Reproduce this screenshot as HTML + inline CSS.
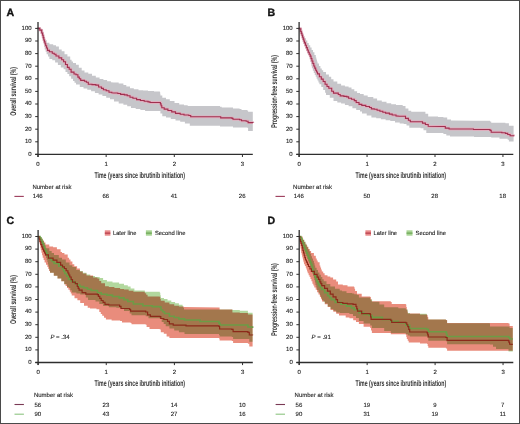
<!DOCTYPE html>
<html><head><meta charset="utf-8"><title>Kaplan-Meier curves</title>
<style>
html,body{margin:0;padding:0;background:#fff;}
svg{display:block;filter:blur(0.35px);}
text{font-family:"Liberation Sans", sans-serif;text-rendering:geometricPrecision;}
.tk,.nr,.lg,.pv{font-size:6px;fill:#262626;stroke:#262626;stroke-width:0.12px;}
.ti{font-size:8.3px;font-weight:bold;fill:#333;}
.lt{font-size:10.6px;font-weight:bold;fill:#111;stroke:#111;stroke-width:0.35px;}
</style></head>
<body><svg width="520" height="424" viewBox="0 0 520 424">
<rect x="0.5" y="0.5" width="519" height="423" fill="#fff" stroke="#4a4a4a" stroke-width="1"/>
<path d="M37.60,28.40 L40.00,28.40 L40.00,29.50 L41.25,29.50 L41.25,32.25 L42.50,32.25 L42.50,35.00 L43.25,35.00 L43.25,37.50 L44.00,37.50 L44.00,40.00 L46.60,40.00 L46.60,42.80 L49.40,42.80 L49.40,44.20 L53.20,44.20 L53.20,45.20 L56.00,45.20 L56.00,46.60 L58.90,46.60 L58.90,49.40 L61.70,49.40 L61.70,51.30 L64.50,51.30 L64.50,54.20 L67.40,54.20 L67.40,56.50 L70.20,56.50 L70.20,59.80 L71.60,59.80 L71.60,61.45 L73.00,61.45 L73.00,63.10 L76.00,63.10 L76.00,64.80 L78.80,64.80 L78.80,67.70 L81.70,67.70 L81.70,70.50 L84.50,70.50 L84.50,72.40 L88.30,72.40 L88.30,73.80 L92.00,73.80 L92.00,75.70 L95.80,75.70 L95.80,77.60 L99.60,77.60 L99.60,79.00 L103.40,79.00 L103.40,79.90 L107.10,79.90 L107.10,81.30 L110.90,81.30 L110.90,82.30 L114.00,82.60 L118.70,82.60 L118.70,83.50 L123.40,83.50 L123.40,85.00 L126.30,85.00 L126.30,86.40 L130.00,86.40 L130.00,88.30 L133.80,88.30 L133.80,89.20 L138.50,89.20 L138.50,90.20 L143.20,90.20 L143.20,90.60 L148.00,90.60 L148.00,91.10 L154.00,91.10 L154.00,91.60 L159.90,91.60 L159.90,92.10 L160.15,92.10 L160.15,93.75 L160.40,93.75 L160.40,95.40 L162.30,95.40 L162.30,97.80 L166.00,97.80 L166.00,99.20 L169.80,99.20 L169.80,101.10 L174.50,101.10 L174.50,103.00 L179.20,103.00 L179.20,104.40 L184.00,104.40 L184.00,105.30 L187.70,105.30 L187.70,105.90 L219.00,105.90 L220.00,105.90 L220.00,106.80 L221.70,106.80 L221.70,107.50 L231.10,107.50 L233.00,107.50 L233.00,108.50 L239.60,108.50 L239.60,109.00 L241.50,109.00 L241.50,109.90 L247.10,109.90 L247.10,110.40 L248.10,110.40 L248.10,111.80 L252.80,111.80 L252.80,112.30 L252.80,131.10 L248.10,131.10 L248.10,127.80 L247.10,127.80 L247.10,127.40 L233.00,127.40 L233.00,126.40 L232.00,126.40 L220.00,126.40 L220.00,125.80 L218.00,125.80 L189.80,125.80 L189.80,123.50 L184.90,123.50 L184.90,121.80 L180.20,121.80 L180.20,120.40 L175.50,120.40 L175.50,119.00 L170.80,119.00 L170.80,117.60 L166.00,117.60 L166.00,116.20 L162.30,116.20 L162.30,113.40 L160.40,113.40 L160.40,111.00 L159.90,111.00 L150.00,111.00 L145.10,110.90 L145.10,110.00 L140.40,110.00 L140.40,109.00 L135.70,109.00 L135.70,108.10 L131.00,108.10 L131.00,106.20 L127.20,106.20 L127.20,104.80 L123.40,104.80 L123.40,103.50 L118.70,103.50 L118.70,101.50 L114.00,101.50 L114.00,99.30 L110.00,99.30 L110.00,97.80 L106.20,97.80 L106.20,96.00 L102.40,96.00 L102.40,94.50 L98.60,94.50 L98.60,93.10 L94.90,93.10 L94.90,91.20 L91.10,91.20 L91.10,89.80 L87.30,89.80 L87.30,88.40 L83.50,88.40 L83.50,87.00 L79.80,87.00 L79.80,84.60 L76.00,84.60 L76.00,82.80 L74.50,82.80 L74.50,81.00 L73.00,81.00 L73.00,78.70 L71.10,78.70 L71.10,76.30 L69.20,76.30 L69.20,74.00 L67.40,74.00 L67.40,72.10 L65.50,72.10 L65.50,69.20 L63.60,69.20 L63.60,67.40 L60.80,67.40 L60.80,65.00 L57.90,65.00 L57.90,62.60 L55.10,62.60 L55.10,60.30 L52.30,60.30 L52.30,58.90 L49.40,58.90 L49.40,56.55 L48.00,56.55 L48.00,54.20 L46.60,54.20 L46.60,51.80 L45.65,51.80 L45.65,49.40 L44.70,49.40 L44.70,46.93 L44.30,46.93 L44.30,44.47 L43.90,44.47 L43.90,42.00 L43.50,42.00 L43.50,39.67 L43.00,39.67 L43.00,37.33 L42.50,37.33 L42.50,35.00 L42.00,35.00 L42.00,33.00 L41.00,33.00 L41.00,31.00 L40.00,31.00 L40.00,28.40 L37.60,28.40 Z" fill="#c6c6ca"/>
<path d="M37.60,28.40 L39.80,28.40 L39.80,30.10 L41.70,30.10 L41.70,33.00 L42.60,33.00 L42.60,35.30 L43.20,35.30 L43.20,37.65 L43.80,37.65 L43.80,40.00 L44.43,40.00 L44.43,41.90 L45.07,41.90 L45.07,43.80 L45.70,43.80 L45.70,45.70 L46.60,45.70 L46.60,48.05 L47.50,48.05 L47.50,50.40 L49.40,50.40 L49.40,51.80 L52.30,51.80 L52.30,53.20 L54.20,53.20 L54.20,54.20 L56.00,54.20 L56.00,56.00 L58.90,56.00 L58.90,57.90 L61.70,57.90 L61.70,59.80 L63.60,59.80 L63.60,61.70 L65.50,61.70 L65.50,64.50 L67.40,64.50 L67.40,67.40 L69.20,67.40 L69.20,69.20 L71.10,69.20 L71.10,72.10 L74.00,72.10 L74.00,74.00 L76.00,74.00 L76.00,74.80 L77.90,74.80 L77.90,77.10 L79.30,77.10 L79.30,78.75 L80.70,78.75 L80.70,80.40 L84.50,80.40 L84.50,81.30 L86.40,81.30 L86.40,82.30 L88.30,82.30 L88.30,84.20 L92.00,84.20 L92.00,84.60 L95.80,84.60 L95.80,85.10 L98.60,85.10 L98.60,87.00 L101.50,87.00 L101.50,88.40 L103.40,88.40 L103.40,89.80 L106.20,89.80 L106.20,90.80 L109.00,90.80 L109.00,92.20 L111.80,92.20 L111.80,92.70 L114.00,93.00 L117.80,93.00 L117.80,93.50 L120.60,93.50 L120.60,94.40 L124.40,94.40 L124.40,94.90 L127.20,94.90 L127.20,95.80 L130.00,95.80 L130.00,97.20 L132.90,97.20 L132.90,98.20 L136.60,98.20 L136.60,99.60 L140.40,99.60 L140.40,100.50 L144.20,100.50 L144.20,101.30 L148.00,101.30 L148.00,101.90 L150.00,101.90 L150.00,102.50 L159.40,102.50 L160.40,102.50 L160.40,103.90 L161.10,103.90 L161.10,105.80 L161.80,105.80 L161.80,107.70 L164.20,107.70 L164.20,109.10 L167.90,109.10 L167.90,110.50 L171.70,110.50 L171.70,111.90 L175.50,111.90 L175.50,113.40 L180.20,113.40 L180.20,114.30 L184.00,114.30 L184.00,115.00 L188.80,115.00 L188.80,115.50 L190.70,115.50 L190.70,116.80 L219.00,116.80 L220.70,116.80 L220.70,117.90 L232.00,117.90 L232.00,118.40 L233.00,118.40 L233.00,119.30 L239.60,119.30 L239.60,119.80 L241.50,119.80 L241.50,120.80 L246.20,120.80 L246.20,121.20 L248.10,121.20 L248.10,122.60 L252.80,122.60 L252.80,123.10" fill="none" stroke="#e0aebe" stroke-width="2.8" stroke-linejoin="round"/>
<path d="M37.60,28.40 L39.80,28.40 L39.80,30.10 L41.70,30.10 L41.70,33.00 L42.60,33.00 L42.60,35.30 L43.20,35.30 L43.20,37.65 L43.80,37.65 L43.80,40.00 L44.43,40.00 L44.43,41.90 L45.07,41.90 L45.07,43.80 L45.70,43.80 L45.70,45.70 L46.60,45.70 L46.60,48.05 L47.50,48.05 L47.50,50.40 L49.40,50.40 L49.40,51.80 L52.30,51.80 L52.30,53.20 L54.20,53.20 L54.20,54.20 L56.00,54.20 L56.00,56.00 L58.90,56.00 L58.90,57.90 L61.70,57.90 L61.70,59.80 L63.60,59.80 L63.60,61.70 L65.50,61.70 L65.50,64.50 L67.40,64.50 L67.40,67.40 L69.20,67.40 L69.20,69.20 L71.10,69.20 L71.10,72.10 L74.00,72.10 L74.00,74.00 L76.00,74.00 L76.00,74.80 L77.90,74.80 L77.90,77.10 L79.30,77.10 L79.30,78.75 L80.70,78.75 L80.70,80.40 L84.50,80.40 L84.50,81.30 L86.40,81.30 L86.40,82.30 L88.30,82.30 L88.30,84.20 L92.00,84.20 L92.00,84.60 L95.80,84.60 L95.80,85.10 L98.60,85.10 L98.60,87.00 L101.50,87.00 L101.50,88.40 L103.40,88.40 L103.40,89.80 L106.20,89.80 L106.20,90.80 L109.00,90.80 L109.00,92.20 L111.80,92.20 L111.80,92.70 L114.00,93.00 L117.80,93.00 L117.80,93.50 L120.60,93.50 L120.60,94.40 L124.40,94.40 L124.40,94.90 L127.20,94.90 L127.20,95.80 L130.00,95.80 L130.00,97.20 L132.90,97.20 L132.90,98.20 L136.60,98.20 L136.60,99.60 L140.40,99.60 L140.40,100.50 L144.20,100.50 L144.20,101.30 L148.00,101.30 L148.00,101.90 L150.00,101.90 L150.00,102.50 L159.40,102.50 L160.40,102.50 L160.40,103.90 L161.10,103.90 L161.10,105.80 L161.80,105.80 L161.80,107.70 L164.20,107.70 L164.20,109.10 L167.90,109.10 L167.90,110.50 L171.70,110.50 L171.70,111.90 L175.50,111.90 L175.50,113.40 L180.20,113.40 L180.20,114.30 L184.00,114.30 L184.00,115.00 L188.80,115.00 L188.80,115.50 L190.70,115.50 L190.70,116.80 L219.00,116.80 L220.70,116.80 L220.70,117.90 L232.00,117.90 L232.00,118.40 L233.00,118.40 L233.00,119.30 L239.60,119.30 L239.60,119.80 L241.50,119.80 L241.50,120.80 L246.20,120.80 L246.20,121.20 L248.10,121.20 L248.10,122.60 L252.80,122.60 L252.80,123.10" fill="none" stroke="#a0304f" stroke-width="1.1"/>
<line x1="38.00" y1="22.00" x2="38.00" y2="157.00" stroke="#2e2e2e" stroke-width="1.3"/>
<line x1="35.20" y1="154.40" x2="252.80" y2="154.40" stroke="#2e2e2e" stroke-width="1.3"/>
<line x1="35.20" y1="154.40" x2="38.00" y2="154.40" stroke="#2e2e2e" stroke-width="1"/>
<text x="31.60" y="155.70" text-anchor="end" class="tk">0</text>
<line x1="35.20" y1="141.80" x2="38.00" y2="141.80" stroke="#2e2e2e" stroke-width="1"/>
<text x="31.60" y="143.10" text-anchor="end" class="tk">10</text>
<line x1="35.20" y1="129.20" x2="38.00" y2="129.20" stroke="#2e2e2e" stroke-width="1"/>
<text x="31.60" y="130.50" text-anchor="end" class="tk">20</text>
<line x1="35.20" y1="116.60" x2="38.00" y2="116.60" stroke="#2e2e2e" stroke-width="1"/>
<text x="31.60" y="117.90" text-anchor="end" class="tk">30</text>
<line x1="35.20" y1="104.00" x2="38.00" y2="104.00" stroke="#2e2e2e" stroke-width="1"/>
<text x="31.60" y="105.30" text-anchor="end" class="tk">40</text>
<line x1="35.20" y1="91.40" x2="38.00" y2="91.40" stroke="#2e2e2e" stroke-width="1"/>
<text x="31.60" y="92.70" text-anchor="end" class="tk">50</text>
<line x1="35.20" y1="78.80" x2="38.00" y2="78.80" stroke="#2e2e2e" stroke-width="1"/>
<text x="31.60" y="80.10" text-anchor="end" class="tk">60</text>
<line x1="35.20" y1="66.20" x2="38.00" y2="66.20" stroke="#2e2e2e" stroke-width="1"/>
<text x="31.60" y="67.50" text-anchor="end" class="tk">70</text>
<line x1="35.20" y1="53.60" x2="38.00" y2="53.60" stroke="#2e2e2e" stroke-width="1"/>
<text x="31.60" y="54.90" text-anchor="end" class="tk">80</text>
<line x1="35.20" y1="41.00" x2="38.00" y2="41.00" stroke="#2e2e2e" stroke-width="1"/>
<text x="31.60" y="42.30" text-anchor="end" class="tk">90</text>
<line x1="35.20" y1="28.40" x2="38.00" y2="28.40" stroke="#2e2e2e" stroke-width="1"/>
<text x="31.60" y="29.70" text-anchor="end" class="tk">100</text>
<line x1="38.00" y1="154.40" x2="38.00" y2="157.00" stroke="#2e2e2e" stroke-width="1"/>
<text x="38.00" y="166.00" text-anchor="middle" class="tk">0</text>
<line x1="106.15" y1="154.40" x2="106.15" y2="157.00" stroke="#2e2e2e" stroke-width="1"/>
<text x="106.15" y="166.00" text-anchor="middle" class="tk">1</text>
<line x1="174.30" y1="154.40" x2="174.30" y2="157.00" stroke="#2e2e2e" stroke-width="1"/>
<text x="174.30" y="166.00" text-anchor="middle" class="tk">2</text>
<line x1="242.45" y1="154.40" x2="242.45" y2="157.00" stroke="#2e2e2e" stroke-width="1"/>
<text x="242.45" y="166.00" text-anchor="middle" class="tk">3</text>
<text x="94.40" y="178.10" class="ti" textLength="90.6" lengthAdjust="spacingAndGlyphs">Time (years since ibrutinib initiation)</text>
<text transform="translate(15.50,91.40) rotate(-90)" text-anchor="middle" class="ti" textLength="48.8" lengthAdjust="spacingAndGlyphs">Overall survival (%)</text>
<path d="M298.80,28.40 L300.25,28.40 L300.25,30.45 L301.70,30.45 L301.70,32.50 L302.63,32.50 L302.63,34.40 L303.57,34.40 L303.57,36.30 L304.50,36.30 L304.50,38.20 L305.90,38.20 L305.90,40.55 L307.30,40.55 L307.30,42.90 L308.75,42.90 L308.75,45.25 L310.20,45.25 L310.20,47.60 L311.60,47.60 L311.60,49.95 L313.00,49.95 L313.00,52.30 L314.40,52.30 L314.40,54.90 L315.80,54.90 L315.80,57.50 L316.37,57.50 L316.37,59.50 L316.93,59.50 L316.93,61.50 L317.50,61.50 L317.50,63.50 L318.95,63.50 L318.95,66.00 L320.40,66.00 L320.40,68.50 L321.80,68.50 L321.80,70.25 L323.20,70.25 L323.20,72.00 L326.00,72.00 L326.00,74.40 L328.90,74.40 L328.90,76.80 L331.20,76.80 L331.20,79.20 L333.50,79.20 L333.50,81.60 L337.30,81.60 L337.30,83.70 L341.10,83.70 L341.10,85.50 L344.90,85.50 L344.90,86.50 L348.60,86.50 L348.60,87.40 L351.50,87.40 L351.50,89.30 L354.30,89.30 L354.30,91.20 L357.10,91.20 L357.10,93.10 L360.00,93.10 L360.00,94.00 L363.70,94.00 L363.70,95.50 L367.70,95.50 L367.70,97.10 L373.30,97.10 L373.30,98.50 L377.10,98.50 L377.10,100.40 L381.80,100.40 L381.80,101.80 L386.50,101.80 L386.50,103.20 L391.20,103.20 L391.20,104.20 L396.00,104.20 L396.00,105.10 L402.70,105.10 L402.70,106.00 L405.50,106.00 L405.50,108.50 L408.40,108.50 L408.40,110.80 L411.20,110.80 L411.20,111.80 L422.50,111.80 L425.40,111.80 L425.40,113.70 L428.20,113.70 L428.20,116.50 L438.00,116.50 L438.00,117.00 L443.40,117.00 L443.40,117.50 L447.20,117.50 L447.20,119.60 L451.00,119.60 L451.00,120.50 L474.00,120.80 L490.00,120.80 L490.00,121.60 L491.20,121.60 L491.20,122.70 L505.40,122.70 L505.40,123.30 L508.90,123.30 L508.90,125.70 L513.60,125.70 L513.60,126.30 L513.60,141.60 L508.90,141.60 L508.90,139.80 L507.70,139.80 L507.70,138.70 L499.50,138.70 L499.50,137.50 L491.20,137.50 L491.20,137.00 L474.00,137.00 L474.00,136.50 L450.00,136.50 L450.00,135.60 L446.30,135.60 L446.30,134.00 L443.40,134.00 L443.40,133.00 L426.30,133.00 L426.30,130.20 L423.50,130.20 L423.50,128.30 L420.60,128.30 L420.60,127.80 L409.30,127.80 L409.30,125.50 L406.50,125.50 L406.50,124.10 L403.70,124.10 L403.70,123.50 L399.70,123.50 L399.70,122.50 L395.00,122.50 L395.00,121.10 L390.30,121.10 L390.30,120.20 L385.60,120.20 L385.60,119.20 L380.90,119.20 L380.90,118.30 L376.20,118.30 L376.20,117.40 L371.40,117.40 L371.40,115.50 L366.70,115.50 L366.70,113.50 L362.00,113.50 L362.00,111.50 L360.00,111.50 L360.00,110.10 L356.20,110.10 L356.20,108.20 L352.40,108.20 L352.40,106.30 L348.60,106.30 L348.60,104.90 L344.90,104.90 L344.90,103.50 L341.10,103.50 L341.10,102.50 L337.30,102.50 L337.30,101.10 L333.50,101.10 L333.50,97.80 L329.80,97.80 L329.80,95.00 L326.00,95.00 L326.00,92.80 L325.10,92.80 L325.10,90.00 L323.20,90.00 L323.20,87.10 L321.30,87.10 L321.30,84.30 L319.40,84.30 L319.40,82.40 L318.45,82.40 L318.45,80.50 L317.50,80.50 L317.50,78.65 L316.60,78.65 L316.60,76.80 L315.70,76.80 L315.70,74.90 L314.75,74.90 L314.75,73.00 L313.80,73.00 L313.80,70.65 L312.85,70.65 L312.85,68.30 L311.90,68.30 L311.90,66.20 L311.43,66.20 L311.43,64.10 L310.97,64.10 L310.97,62.00 L310.50,62.00 L310.50,59.50 L309.85,59.50 L309.85,57.00 L309.20,57.00 L309.20,55.10 L308.25,55.10 L308.25,53.20 L307.30,53.20 L307.30,50.85 L306.35,50.85 L306.35,48.50 L305.40,48.50 L305.40,46.15 L304.45,46.15 L304.45,43.80 L303.50,43.80 L303.50,41.93 L302.90,41.93 L302.90,40.07 L302.30,40.07 L302.30,38.20 L301.70,38.20 L301.70,35.97 L301.07,35.97 L301.07,33.73 L300.43,33.73 L300.43,31.50 L299.80,31.50 L299.80,28.40 L298.80,28.40 Z" fill="#c6c6ca"/>
<path d="M298.80,28.40 L299.30,28.40 L299.30,28.70 L300.70,28.70 L300.70,31.50 L301.33,31.50 L301.33,33.40 L301.97,33.40 L301.97,35.30 L302.60,35.30 L302.60,37.20 L303.23,37.20 L303.23,39.10 L303.87,39.10 L303.87,41.00 L304.50,41.00 L304.50,42.90 L305.45,42.90 L305.45,45.25 L306.40,45.25 L306.40,47.60 L307.35,47.60 L307.35,49.95 L308.30,49.95 L308.30,52.30 L309.25,52.30 L309.25,54.20 L310.20,54.20 L310.20,56.10 L311.05,56.10 L311.05,58.55 L311.90,58.55 L311.90,61.00 L312.85,61.00 L312.85,63.50 L313.80,63.50 L313.80,66.00 L314.75,66.00 L314.75,68.10 L315.70,68.10 L315.70,70.20 L316.60,70.20 L316.60,72.05 L317.50,72.05 L317.50,73.90 L319.40,73.90 L319.40,76.80 L321.30,76.80 L321.30,79.10 L323.20,79.10 L323.20,81.50 L325.10,81.50 L325.10,84.30 L327.00,84.30 L327.00,86.50 L328.80,86.50 L328.80,88.30 L331.70,88.30 L331.70,91.20 L333.50,91.20 L333.50,93.10 L336.40,93.10 L338.30,93.10 L338.30,94.50 L340.20,94.50 L340.20,95.90 L343.90,95.90 L343.90,96.40 L346.80,96.40 L346.80,96.90 L348.60,96.90 L348.60,98.30 L351.50,98.30 L351.50,99.20 L354.30,99.20 L354.30,100.60 L356.20,100.60 L356.20,102.50 L359.00,102.50 L359.00,104.40 L361.80,104.40 L361.80,105.40 L365.80,105.40 L365.80,106.50 L369.50,106.50 L369.50,107.50 L371.40,107.50 L371.40,108.90 L374.30,108.90 L374.30,109.30 L377.10,109.30 L377.10,110.30 L379.90,110.30 L379.90,111.20 L382.80,111.20 L382.80,112.20 L385.60,112.20 L385.60,113.10 L389.40,113.10 L389.40,114.10 L392.20,114.10 L392.20,115.00 L396.00,115.00 L396.00,115.90 L399.70,116.20 L403.70,116.20 L405.50,116.20 L405.50,118.40 L408.40,118.40 L408.40,120.30 L410.30,120.30 L410.30,121.70 L419.70,121.70 L422.50,121.70 L422.50,123.10 L425.40,123.10 L425.40,124.50 L428.20,124.50 L428.20,126.30 L441.50,126.50 L445.30,126.50 L445.30,128.10 L449.10,128.10 L449.10,129.00 L473.50,129.00 L473.50,129.50 L490.00,129.50 L490.00,130.40 L491.20,130.40 L491.20,132.20 L501.80,132.20 L501.80,132.80 L505.40,132.80 L505.40,133.40 L507.70,133.40 L507.70,134.50 L510.10,134.50 L510.10,135.70 L513.60,135.70 L513.60,136.30" fill="none" stroke="#e0aebe" stroke-width="2.8" stroke-linejoin="round"/>
<path d="M298.80,28.40 L299.30,28.40 L299.30,28.70 L300.70,28.70 L300.70,31.50 L301.33,31.50 L301.33,33.40 L301.97,33.40 L301.97,35.30 L302.60,35.30 L302.60,37.20 L303.23,37.20 L303.23,39.10 L303.87,39.10 L303.87,41.00 L304.50,41.00 L304.50,42.90 L305.45,42.90 L305.45,45.25 L306.40,45.25 L306.40,47.60 L307.35,47.60 L307.35,49.95 L308.30,49.95 L308.30,52.30 L309.25,52.30 L309.25,54.20 L310.20,54.20 L310.20,56.10 L311.05,56.10 L311.05,58.55 L311.90,58.55 L311.90,61.00 L312.85,61.00 L312.85,63.50 L313.80,63.50 L313.80,66.00 L314.75,66.00 L314.75,68.10 L315.70,68.10 L315.70,70.20 L316.60,70.20 L316.60,72.05 L317.50,72.05 L317.50,73.90 L319.40,73.90 L319.40,76.80 L321.30,76.80 L321.30,79.10 L323.20,79.10 L323.20,81.50 L325.10,81.50 L325.10,84.30 L327.00,84.30 L327.00,86.50 L328.80,86.50 L328.80,88.30 L331.70,88.30 L331.70,91.20 L333.50,91.20 L333.50,93.10 L336.40,93.10 L338.30,93.10 L338.30,94.50 L340.20,94.50 L340.20,95.90 L343.90,95.90 L343.90,96.40 L346.80,96.40 L346.80,96.90 L348.60,96.90 L348.60,98.30 L351.50,98.30 L351.50,99.20 L354.30,99.20 L354.30,100.60 L356.20,100.60 L356.20,102.50 L359.00,102.50 L359.00,104.40 L361.80,104.40 L361.80,105.40 L365.80,105.40 L365.80,106.50 L369.50,106.50 L369.50,107.50 L371.40,107.50 L371.40,108.90 L374.30,108.90 L374.30,109.30 L377.10,109.30 L377.10,110.30 L379.90,110.30 L379.90,111.20 L382.80,111.20 L382.80,112.20 L385.60,112.20 L385.60,113.10 L389.40,113.10 L389.40,114.10 L392.20,114.10 L392.20,115.00 L396.00,115.00 L396.00,115.90 L399.70,116.20 L403.70,116.20 L405.50,116.20 L405.50,118.40 L408.40,118.40 L408.40,120.30 L410.30,120.30 L410.30,121.70 L419.70,121.70 L422.50,121.70 L422.50,123.10 L425.40,123.10 L425.40,124.50 L428.20,124.50 L428.20,126.30 L441.50,126.50 L445.30,126.50 L445.30,128.10 L449.10,128.10 L449.10,129.00 L473.50,129.00 L473.50,129.50 L490.00,129.50 L490.00,130.40 L491.20,130.40 L491.20,132.20 L501.80,132.20 L501.80,132.80 L505.40,132.80 L505.40,133.40 L507.70,133.40 L507.70,134.50 L510.10,134.50 L510.10,135.70 L513.60,135.70 L513.60,136.30" fill="none" stroke="#a0304f" stroke-width="1.1"/>
<line x1="299.10" y1="22.00" x2="299.10" y2="157.00" stroke="#2e2e2e" stroke-width="1.3"/>
<line x1="296.30" y1="154.40" x2="513.30" y2="154.40" stroke="#2e2e2e" stroke-width="1.3"/>
<line x1="296.30" y1="154.40" x2="299.10" y2="154.40" stroke="#2e2e2e" stroke-width="1"/>
<text x="292.70" y="155.70" text-anchor="end" class="tk">0</text>
<line x1="296.30" y1="141.80" x2="299.10" y2="141.80" stroke="#2e2e2e" stroke-width="1"/>
<text x="292.70" y="143.10" text-anchor="end" class="tk">10</text>
<line x1="296.30" y1="129.20" x2="299.10" y2="129.20" stroke="#2e2e2e" stroke-width="1"/>
<text x="292.70" y="130.50" text-anchor="end" class="tk">20</text>
<line x1="296.30" y1="116.60" x2="299.10" y2="116.60" stroke="#2e2e2e" stroke-width="1"/>
<text x="292.70" y="117.90" text-anchor="end" class="tk">30</text>
<line x1="296.30" y1="104.00" x2="299.10" y2="104.00" stroke="#2e2e2e" stroke-width="1"/>
<text x="292.70" y="105.30" text-anchor="end" class="tk">40</text>
<line x1="296.30" y1="91.40" x2="299.10" y2="91.40" stroke="#2e2e2e" stroke-width="1"/>
<text x="292.70" y="92.70" text-anchor="end" class="tk">50</text>
<line x1="296.30" y1="78.80" x2="299.10" y2="78.80" stroke="#2e2e2e" stroke-width="1"/>
<text x="292.70" y="80.10" text-anchor="end" class="tk">60</text>
<line x1="296.30" y1="66.20" x2="299.10" y2="66.20" stroke="#2e2e2e" stroke-width="1"/>
<text x="292.70" y="67.50" text-anchor="end" class="tk">70</text>
<line x1="296.30" y1="53.60" x2="299.10" y2="53.60" stroke="#2e2e2e" stroke-width="1"/>
<text x="292.70" y="54.90" text-anchor="end" class="tk">80</text>
<line x1="296.30" y1="41.00" x2="299.10" y2="41.00" stroke="#2e2e2e" stroke-width="1"/>
<text x="292.70" y="42.30" text-anchor="end" class="tk">90</text>
<line x1="296.30" y1="28.40" x2="299.10" y2="28.40" stroke="#2e2e2e" stroke-width="1"/>
<text x="292.70" y="29.70" text-anchor="end" class="tk">100</text>
<line x1="299.10" y1="154.40" x2="299.10" y2="157.00" stroke="#2e2e2e" stroke-width="1"/>
<text x="299.10" y="166.00" text-anchor="middle" class="tk">0</text>
<line x1="367.05" y1="154.40" x2="367.05" y2="157.00" stroke="#2e2e2e" stroke-width="1"/>
<text x="367.05" y="166.00" text-anchor="middle" class="tk">1</text>
<line x1="435.00" y1="154.40" x2="435.00" y2="157.00" stroke="#2e2e2e" stroke-width="1"/>
<text x="435.00" y="166.00" text-anchor="middle" class="tk">2</text>
<line x1="502.95" y1="154.40" x2="502.95" y2="157.00" stroke="#2e2e2e" stroke-width="1"/>
<text x="502.95" y="166.00" text-anchor="middle" class="tk">3</text>
<text x="355.50" y="178.10" class="ti" textLength="90.6" lengthAdjust="spacingAndGlyphs">Time (years since ibrutinib initiation)</text>
<text transform="translate(276.60,91.40) rotate(-90)" text-anchor="middle" class="ti" textLength="72.7" lengthAdjust="spacingAndGlyphs">Progression-free survival (%)</text>
<g style="isolation:isolate">
<path d="M37.80,236.50 L41.00,236.50 L41.00,238.00 L42.25,238.00 L42.25,240.50 L43.50,240.50 L43.50,243.00 L44.50,243.00 L44.50,245.65 L45.50,245.65 L45.50,248.30 L49.30,248.30 L49.30,251.10 L51.65,251.10 L51.65,253.00 L54.00,253.00 L54.00,254.90 L58.80,254.90 L58.80,257.70 L62.00,257.70 L62.00,259.50 L65.80,259.50 L65.80,262.40 L69.50,262.40 L69.50,265.20 L72.40,265.20 L72.40,267.10 L76.20,267.10 L76.20,269.90 L79.90,269.90 L79.90,270.90 L82.80,270.90 L82.80,272.80 L86.50,272.80 L86.50,274.60 L90.30,274.60 L90.30,276.10 L95.00,276.10 L95.00,277.00 L99.70,277.00 L99.70,277.90 L103.10,277.90 L103.10,280.00 L106.90,280.00 L106.90,281.40 L112.50,281.40 L112.50,282.40 L119.10,282.40 L119.10,283.80 L124.00,283.80 L124.00,285.20 L127.80,285.20 L127.80,286.60 L130.60,286.60 L130.60,288.50 L134.40,288.50 L134.40,290.40 L144.80,290.40 L144.80,291.80 L159.80,291.80 L159.80,292.70 L160.30,292.70 L160.30,295.30 L160.80,295.30 L160.80,297.90 L164.00,297.90 L164.00,298.90 L167.50,298.90 L167.50,300.50 L171.30,300.50 L171.30,301.90 L175.10,301.90 L175.10,303.30 L178.90,303.30 L178.90,304.70 L182.60,304.70 L182.60,306.20 L183.30,306.20 L183.30,307.85 L184.00,307.85 L184.00,309.50 L231.80,309.50 L232.40,309.50 L232.40,310.10 L239.80,310.10 L239.80,310.80 L247.90,310.80 L247.90,312.80 L252.60,312.80 L252.60,313.50 L252.60,342.40 L252.60,341.80 L249.30,341.80 L249.30,339.10 L247.90,339.10 L233.10,339.10 L233.10,337.00 L231.80,337.00 L231.80,336.40 L219.60,336.40 L219.60,335.00 L219.00,335.00 L219.00,334.00 L184.50,334.00 L184.50,332.30 L178.90,332.30 L178.90,330.40 L174.20,330.40 L174.20,328.50 L169.40,328.50 L169.40,326.20 L165.70,326.20 L165.70,324.05 L163.70,324.05 L163.70,321.90 L161.70,321.90 L161.70,319.10 L159.80,319.10 L159.80,318.20 L148.50,318.20 L148.50,316.30 L145.70,316.30 L145.70,315.30 L131.50,315.30 L131.50,313.40 L129.70,313.40 L129.70,311.00 L124.00,311.00 L124.00,308.30 L120.10,308.30 L120.10,307.80 L116.30,307.80 L116.30,307.30 L108.80,307.30 L108.80,306.00 L103.10,306.00 L103.10,304.00 L99.30,304.00 L99.30,301.50 L95.50,301.50 L95.50,300.00 L88.00,300.00 L88.00,297.40 L85.80,297.40 L85.80,294.50 L80.20,294.50 L80.20,293.60 L76.40,293.60 L76.40,292.60 L71.70,292.60 L71.70,290.30 L70.30,290.30 L70.30,288.00 L68.90,288.00 L68.90,287.00 L67.00,287.00 L67.00,284.20 L64.20,284.20 L64.20,281.30 L61.30,281.30 L61.30,278.50 L57.50,278.50 L57.50,275.70 L53.80,275.70 L53.80,272.80 L50.00,272.80 L50.00,270.64 L49.48,270.64 L49.48,268.48 L48.96,268.48 L48.96,266.32 L48.44,266.32 L48.44,264.16 L47.92,264.16 L47.92,262.00 L47.40,262.00 L47.40,260.00 L46.70,260.00 L46.70,258.00 L46.00,258.00 L46.00,256.00 L45.30,256.00 L45.30,254.00 L44.60,254.00 L44.60,252.00 L43.97,252.00 L43.97,250.00 L43.33,250.00 L43.33,248.00 L42.70,248.00 L42.70,246.00 L41.85,246.00 L41.85,244.00 L41.00,244.00 L41.00,242.00 L40.25,242.00 L40.25,240.00 L39.50,240.00 L39.50,238.25 L38.65,238.25 L38.65,236.50 L37.80,236.50 Z" fill="#b2d89e"/>
<path d="M37.80,236.50 L39.90,236.50 L39.90,236.90 L41.30,236.90 L41.30,238.80 L42.70,238.80 L42.70,240.70 L44.10,240.70 L44.10,242.60 L45.50,242.60 L45.50,244.50 L49.30,244.50 L49.30,246.40 L53.10,246.40 L53.10,247.30 L56.90,247.30 L56.90,249.20 L60.60,249.20 L60.60,252.00 L62.00,252.00 L62.00,252.90 L64.40,252.90 L64.40,254.40 L67.70,254.40 L67.70,257.70 L69.10,257.70 L69.10,259.55 L70.50,259.55 L70.50,261.40 L72.40,261.40 L72.40,264.30 L74.30,264.30 L74.30,266.20 L77.10,266.20 L77.10,268.50 L79.90,268.50 L79.90,271.50 L82.80,271.50 L82.80,273.50 L86.50,273.50 L86.50,275.60 L93.10,275.60 L93.10,277.50 L97.40,277.50 L97.40,278.60 L99.30,278.60 L99.30,280.95 L101.20,280.95 L101.20,283.30 L105.00,283.30 L105.00,286.20 L108.80,286.20 L108.80,287.10 L114.40,287.10 L114.40,288.00 L120.10,288.00 L120.10,289.00 L124.00,289.00 L124.00,289.40 L128.70,289.40 L128.70,290.80 L133.40,290.80 L133.40,291.80 L144.80,291.80 L144.80,293.20 L146.20,293.20 L146.20,294.85 L147.60,294.85 L147.60,296.50 L159.80,296.50 L159.80,297.00 L160.30,297.00 L160.30,298.90 L160.80,298.90 L160.80,300.80 L164.70,300.80 L164.70,302.40 L169.40,302.40 L169.40,304.30 L174.20,304.30 L174.20,305.70 L178.90,305.70 L178.90,306.60 L183.60,306.60 L183.60,307.10 L219.00,307.40 L219.60,307.40 L219.60,309.50 L231.80,309.50 L232.40,309.50 L232.40,312.50 L239.80,312.50 L239.80,313.00 L247.90,313.00 L247.90,314.50 L252.60,314.50 L252.60,315.00 L252.60,346.50 L249.30,346.50 L249.30,343.80 L247.90,343.80 L247.90,343.10 L233.10,343.10 L233.10,341.10 L231.80,341.10 L231.80,340.40 L219.60,340.40 L219.60,338.40 L219.00,338.40 L219.00,337.90 L169.40,337.90 L169.40,336.50 L166.60,336.50 L166.60,333.70 L163.80,333.70 L163.80,332.30 L160.80,332.30 L160.80,329.50 L159.80,329.50 L159.80,329.00 L149.50,329.00 L149.50,327.10 L146.60,327.10 L146.60,324.80 L145.70,324.80 L145.70,324.30 L131.50,324.30 L131.50,322.90 L130.60,322.90 L130.60,322.40 L122.00,322.40 L122.00,321.00 L120.10,321.00 L120.10,320.50 L111.60,320.50 L111.60,319.60 L105.90,319.60 L105.90,317.70 L104.05,317.70 L104.05,315.80 L102.20,315.80 L102.20,313.90 L100.75,313.90 L100.75,312.00 L99.30,312.00 L99.30,309.20 L96.50,309.20 L96.50,308.50 L90.00,308.50 L90.00,307.70 L87.70,307.70 L87.70,305.80 L84.00,305.80 L84.00,303.00 L80.20,303.00 L80.20,300.20 L77.40,300.20 L77.40,298.30 L74.50,298.30 L74.50,295.50 L71.70,295.50 L71.70,293.60 L70.75,293.60 L70.75,291.70 L69.80,291.70 L69.80,289.80 L68.40,289.80 L68.40,287.90 L67.00,287.90 L67.00,286.05 L65.60,286.05 L65.60,284.20 L64.20,284.20 L64.20,281.30 L61.30,281.30 L61.30,278.50 L57.50,278.50 L57.50,275.70 L53.80,275.70 L53.80,272.80 L50.00,272.80 L50.00,270.90 L49.13,270.90 L49.13,269.00 L48.27,269.00 L48.27,267.10 L47.40,267.10 L47.40,264.75 L46.00,264.75 L46.00,262.40 L44.60,262.40 L44.60,260.05 L43.65,260.05 L43.65,257.70 L42.70,257.70 L42.70,255.20 L42.07,255.20 L42.07,252.70 L41.43,252.70 L41.43,250.20 L40.80,250.20 L40.80,248.16 L40.44,248.16 L40.44,246.12 L40.08,246.12 L40.08,244.08 L39.72,244.08 L39.72,242.04 L39.36,242.04 L39.36,240.00 L39.00,240.00 L39.00,238.25 L38.40,238.25 L38.40,236.50 L37.80,236.50 Z" fill="#e98c7c" style="mix-blend-mode:multiply"/>
</g>
<path d="M37.80,236.50 L39.90,236.50 L39.90,237.90 L40.83,237.90 L40.83,239.77 L41.77,239.77 L41.77,241.63 L42.70,241.63 L42.70,243.50 L43.63,243.50 L43.63,246.03 L44.57,246.03 L44.57,248.57 L45.50,248.57 L45.50,251.10 L46.45,251.10 L46.45,253.45 L47.40,253.45 L47.40,255.80 L48.85,255.80 L48.85,257.70 L50.30,257.70 L50.30,259.60 L52.15,259.60 L52.15,261.50 L54.00,261.50 L54.00,263.40 L58.80,263.40 L58.80,266.20 L62.50,266.20 L62.50,269.00 L63.65,269.00 L63.65,271.25 L64.80,271.25 L64.80,273.50 L66.70,273.50 L66.70,276.30 L68.60,276.30 L68.60,279.40 L71.40,279.40 L71.40,281.20 L74.30,281.20 L74.30,283.30 L77.10,283.30 L77.10,285.00 L79.90,285.00 L79.90,286.60 L83.70,286.60 L83.70,287.80 L87.50,287.80 L87.50,289.30 L91.20,289.30 L91.20,290.50 L97.40,290.50 L97.40,292.80 L101.20,292.80 L101.20,294.20 L106.90,294.20 L106.90,295.10 L112.50,295.10 L112.50,296.50 L119.10,296.50 L119.10,297.90 L124.00,297.90 L124.00,299.60 L127.80,299.60 L127.80,301.50 L133.40,301.50 L133.40,304.00 L142.90,304.00 L142.90,305.80 L152.30,305.80 L152.30,306.60 L159.80,306.60 L159.80,307.00 L161.00,307.00 L161.00,310.00 L162.75,310.00 L162.75,311.75 L164.50,311.75 L164.50,313.50 L169.40,313.50 L169.40,316.30 L174.20,316.30 L174.20,317.50 L178.90,317.50 L178.90,318.90 L184.50,318.90 L184.50,320.00 L200.00,320.00 L200.00,321.50 L219.00,321.50 L219.00,323.20 L220.00,323.20 L220.00,325.00 L247.90,325.00 L247.90,327.00 L252.60,327.00 L252.60,328.00" fill="none" stroke="#6c9c46" stroke-width="1.6"/>
<path d="M37.80,236.50 L39.00,236.50 L39.00,239.00 L39.90,239.00 L39.90,241.75 L40.80,241.75 L40.80,244.50 L41.75,244.50 L41.75,246.85 L42.70,246.85 L42.70,249.20 L43.63,249.20 L43.63,251.10 L44.57,251.10 L44.57,253.00 L45.50,253.00 L45.50,254.90 L48.40,254.90 L48.40,258.20 L53.10,258.20 L53.10,260.10 L56.90,260.10 L56.90,262.40 L60.60,262.40 L60.60,265.20 L62.50,265.20 L62.50,266.85 L64.40,266.85 L64.40,268.50 L66.15,268.50 L66.15,270.75 L67.90,270.75 L67.90,273.00 L68.85,273.00 L68.85,275.00 L69.80,275.00 L69.80,277.00 L71.15,277.00 L71.15,279.60 L72.50,279.60 L72.50,282.20 L75.30,282.20 L75.30,283.60 L77.30,283.60 L77.30,286.50 L78.20,286.50 L78.20,288.35 L79.10,288.35 L79.10,290.20 L82.10,290.20 L82.10,292.60 L85.80,292.60 L85.80,294.10 L97.40,294.10 L97.40,294.60 L98.40,294.60 L98.40,296.30 L99.80,296.30 L99.80,298.40 L101.20,298.40 L101.20,300.50 L103.10,300.50 L103.10,302.40 L105.00,302.40 L105.00,304.30 L108.80,304.30 L108.80,305.00 L119.60,305.00 L119.60,306.40 L121.00,306.40 L121.00,308.50 L129.70,308.50 L129.70,309.50 L130.60,309.50 L130.60,311.10 L145.70,311.10 L145.70,312.00 L147.60,312.00 L147.60,314.80 L150.40,314.80 L150.40,316.30 L159.80,316.30 L159.80,316.70 L160.80,316.70 L160.80,318.50 L163.80,318.50 L163.80,319.50 L167.50,319.50 L167.50,321.40 L169.40,321.40 L169.40,323.80 L173.20,323.80 L173.20,325.20 L186.00,325.20 L186.00,325.80 L219.00,325.80 L219.00,326.50 L219.60,326.50 L219.60,329.00 L231.80,329.00 L231.80,329.40 L233.10,329.40 L233.10,331.70 L247.90,331.70 L247.90,332.30 L249.30,332.30 L249.30,335.00 L252.60,335.00 L252.60,335.30" fill="none" stroke="#8c2a1a" stroke-width="1.2"/>
<line x1="38.10" y1="230.10" x2="38.10" y2="365.10" stroke="#2e2e2e" stroke-width="1.3"/>
<line x1="35.30" y1="362.50" x2="252.80" y2="362.50" stroke="#2e2e2e" stroke-width="1.3"/>
<line x1="35.30" y1="362.50" x2="38.10" y2="362.50" stroke="#2e2e2e" stroke-width="1"/>
<text x="31.70" y="363.80" text-anchor="end" class="tk">0</text>
<line x1="35.30" y1="349.90" x2="38.10" y2="349.90" stroke="#2e2e2e" stroke-width="1"/>
<text x="31.70" y="351.20" text-anchor="end" class="tk">10</text>
<line x1="35.30" y1="337.30" x2="38.10" y2="337.30" stroke="#2e2e2e" stroke-width="1"/>
<text x="31.70" y="338.60" text-anchor="end" class="tk">20</text>
<line x1="35.30" y1="324.70" x2="38.10" y2="324.70" stroke="#2e2e2e" stroke-width="1"/>
<text x="31.70" y="326.00" text-anchor="end" class="tk">30</text>
<line x1="35.30" y1="312.10" x2="38.10" y2="312.10" stroke="#2e2e2e" stroke-width="1"/>
<text x="31.70" y="313.40" text-anchor="end" class="tk">40</text>
<line x1="35.30" y1="299.50" x2="38.10" y2="299.50" stroke="#2e2e2e" stroke-width="1"/>
<text x="31.70" y="300.80" text-anchor="end" class="tk">50</text>
<line x1="35.30" y1="286.90" x2="38.10" y2="286.90" stroke="#2e2e2e" stroke-width="1"/>
<text x="31.70" y="288.20" text-anchor="end" class="tk">60</text>
<line x1="35.30" y1="274.30" x2="38.10" y2="274.30" stroke="#2e2e2e" stroke-width="1"/>
<text x="31.70" y="275.60" text-anchor="end" class="tk">70</text>
<line x1="35.30" y1="261.70" x2="38.10" y2="261.70" stroke="#2e2e2e" stroke-width="1"/>
<text x="31.70" y="263.00" text-anchor="end" class="tk">80</text>
<line x1="35.30" y1="249.10" x2="38.10" y2="249.10" stroke="#2e2e2e" stroke-width="1"/>
<text x="31.70" y="250.40" text-anchor="end" class="tk">90</text>
<line x1="35.30" y1="236.50" x2="38.10" y2="236.50" stroke="#2e2e2e" stroke-width="1"/>
<text x="31.70" y="237.80" text-anchor="end" class="tk">100</text>
<line x1="38.10" y1="362.50" x2="38.10" y2="365.10" stroke="#2e2e2e" stroke-width="1"/>
<text x="38.10" y="374.10" text-anchor="middle" class="tk">0</text>
<line x1="106.25" y1="362.50" x2="106.25" y2="365.10" stroke="#2e2e2e" stroke-width="1"/>
<text x="106.25" y="374.10" text-anchor="middle" class="tk">1</text>
<line x1="174.40" y1="362.50" x2="174.40" y2="365.10" stroke="#2e2e2e" stroke-width="1"/>
<text x="174.40" y="374.10" text-anchor="middle" class="tk">2</text>
<line x1="242.55" y1="362.50" x2="242.55" y2="365.10" stroke="#2e2e2e" stroke-width="1"/>
<text x="242.55" y="374.10" text-anchor="middle" class="tk">3</text>
<text x="94.50" y="386.20" class="ti" textLength="90.6" lengthAdjust="spacingAndGlyphs">Time (years since ibrutinib initiation)</text>
<text transform="translate(15.60,299.50) rotate(-90)" text-anchor="middle" class="ti" textLength="48.8" lengthAdjust="spacingAndGlyphs">Overall survival (%)</text>
<g style="isolation:isolate">
<path d="M298.90,236.50 L301.70,236.50 L301.70,237.80 L303.10,237.80 L303.10,239.65 L304.50,239.65 L304.50,241.50 L305.43,241.50 L305.43,243.40 L306.37,243.40 L306.37,245.30 L307.30,245.30 L307.30,247.20 L308.27,247.20 L308.27,249.40 L309.23,249.40 L309.23,251.60 L310.20,251.60 L310.20,253.80 L311.10,253.80 L311.10,256.15 L312.00,256.15 L312.00,258.50 L312.95,258.50 L312.95,260.85 L313.90,260.85 L313.90,263.20 L314.55,263.20 L314.55,265.45 L315.20,265.45 L315.20,267.70 L316.60,267.70 L316.60,270.05 L318.00,270.05 L318.00,272.40 L319.45,272.40 L319.45,274.75 L320.90,274.75 L320.90,277.10 L322.30,277.10 L322.30,279.15 L323.70,279.15 L323.70,281.20 L326.50,281.20 L326.50,284.00 L330.30,284.00 L330.30,286.50 L335.00,286.50 L335.00,288.80 L339.70,288.80 L339.70,290.60 L342.00,290.60 L342.00,291.20 L346.50,291.20 L346.50,293.00 L352.20,293.00 L352.20,293.50 L354.20,293.50 L354.20,294.20 L356.90,294.20 L356.90,294.90 L358.90,294.90 L358.90,297.50 L370.20,297.50 L370.20,299.40 L372.10,299.40 L372.10,301.80 L379.40,301.80 L379.40,304.40 L384.20,304.40 L384.20,307.20 L398.30,307.20 L398.30,308.20 L405.80,308.20 L405.80,309.60 L407.70,309.60 L407.70,312.90 L410.00,312.90 L410.00,313.80 L426.60,313.80 L426.60,314.50 L427.10,314.50 L427.10,316.95 L427.60,316.95 L427.60,319.40 L445.90,319.40 L445.90,320.30 L447.10,320.30 L447.10,323.30 L489.60,323.30 L489.60,323.60 L490.00,323.60 L490.00,326.50 L508.50,326.50 L509.60,326.50 L509.60,328.00 L512.80,328.00 L512.80,352.40 L512.80,351.50 L508.50,351.50 L508.50,349.00 L496.00,349.00 L496.00,346.75 L493.00,346.75 L493.00,344.50 L490.00,344.50 L490.00,344.20 L447.10,344.20 L447.10,341.30 L445.90,341.30 L445.90,340.70 L428.30,340.70 L428.30,337.50 L427.10,337.50 L427.10,336.50 L409.70,336.50 L409.70,335.50 L407.80,335.50 L407.80,334.30 L405.80,334.30 L405.80,332.90 L390.80,332.90 L390.80,331.00 L384.20,331.00 L384.20,328.00 L371.90,328.00 L371.90,325.50 L370.20,325.50 L370.20,323.50 L363.60,323.50 L363.60,321.00 L358.90,321.00 L358.90,318.00 L356.00,318.00 L356.00,316.00 L353.00,316.00 L353.00,314.00 L349.40,314.00 L349.40,313.00 L340.00,313.00 L340.00,312.50 L336.20,312.50 L336.20,310.80 L333.30,310.80 L333.30,309.00 L330.50,309.00 L330.50,306.50 L327.70,306.50 L327.70,303.50 L324.80,303.50 L324.80,301.75 L323.40,301.75 L323.40,300.00 L322.00,300.00 L322.00,297.75 L320.95,297.75 L320.95,295.50 L319.90,295.50 L319.90,292.75 L318.50,292.75 L318.50,290.00 L317.10,290.00 L317.10,287.50 L316.30,287.50 L316.30,285.00 L315.50,285.00 L315.50,282.50 L314.90,282.50 L314.90,280.00 L314.30,280.00 L314.30,278.00 L313.80,278.00 L313.80,276.00 L313.30,276.00 L313.30,273.85 L312.65,273.85 L312.65,271.70 L312.00,271.70 L312.00,269.83 L311.40,269.83 L311.40,267.97 L310.80,267.97 L310.80,266.10 L310.20,266.10 L310.20,263.75 L309.25,263.75 L309.25,261.40 L308.30,261.40 L308.30,259.00 L307.35,259.00 L307.35,256.60 L306.40,256.60 L306.40,254.25 L305.45,254.25 L305.45,251.90 L304.50,251.90 L304.50,250.03 L303.87,250.03 L303.87,248.17 L303.23,248.17 L303.23,246.30 L302.60,246.30 L302.60,244.10 L301.97,244.10 L301.97,241.90 L301.33,241.90 L301.33,239.70 L300.70,239.70 L300.70,236.50 L298.90,236.50 Z" fill="#b2d89e"/>
<path d="M298.90,236.50 L299.80,236.40 L302.60,236.40 L302.60,239.70 L304.00,239.70 L304.00,242.05 L305.40,242.05 L305.40,244.40 L306.85,244.40 L306.85,246.75 L308.30,246.75 L308.30,249.10 L309.70,249.10 L309.70,251.00 L311.10,251.00 L311.10,252.90 L313.90,252.90 L313.90,255.70 L315.80,255.70 L315.80,258.50 L316.75,258.50 L316.75,260.40 L317.70,260.40 L317.70,262.30 L319.60,262.30 L319.60,265.50 L320.33,265.50 L320.33,267.47 L321.07,267.47 L321.07,269.43 L321.80,269.43 L321.80,271.40 L323.20,271.40 L323.20,273.30 L324.60,273.30 L324.60,275.20 L327.50,275.20 L327.50,276.50 L330.30,276.50 L330.30,277.50 L333.10,277.50 L333.10,279.50 L336.20,279.50 L336.20,281.50 L338.00,281.50 L338.00,284.50 L342.80,284.50 L342.80,285.20 L347.50,285.20 L347.50,286.40 L354.10,286.40 L354.10,287.30 L354.60,287.30 L354.60,289.10 L355.10,289.10 L355.10,290.90 L357.00,290.90 L357.00,293.80 L361.70,293.80 L361.70,296.60 L370.20,296.60 L370.20,297.10 L370.85,297.10 L370.85,299.15 L371.50,299.15 L371.50,301.20 L390.80,301.20 L390.80,302.00 L391.70,302.00 L391.70,303.90 L405.80,303.90 L405.80,304.40 L406.30,304.40 L406.30,307.05 L406.80,307.05 L406.80,309.70 L407.30,309.70 L407.30,311.55 L407.80,311.55 L407.80,313.40 L420.00,313.40 L420.00,314.50 L427.10,314.50 L427.10,315.30 L427.70,315.30 L427.70,317.35 L428.30,317.35 L428.30,319.40 L445.90,319.40 L445.90,320.00 L447.10,320.00 L447.10,323.00 L508.50,323.00 L508.50,323.40 L509.60,323.40 L509.60,325.90 L512.80,325.90 L512.80,326.50 L512.80,352.50 L512.80,350.70 L508.50,350.70 L447.10,350.70 L447.10,348.50 L445.90,348.50 L445.90,347.80 L428.30,347.80 L428.30,345.90 L427.70,345.90 L427.70,344.00 L427.10,344.00 L427.10,343.60 L420.00,343.60 L420.00,342.60 L408.70,342.60 L408.70,340.80 L407.75,340.80 L407.75,339.00 L406.80,339.00 L406.80,336.90 L406.30,336.90 L406.30,334.80 L405.80,334.80 L405.80,334.30 L390.80,334.30 L390.80,332.90 L371.90,332.90 L371.90,330.45 L371.05,330.45 L371.05,328.00 L370.20,328.00 L370.20,326.80 L363.60,326.80 L363.60,324.00 L358.90,324.00 L358.90,322.10 L356.00,322.10 L356.00,320.20 L353.20,320.20 L353.20,318.30 L349.40,318.30 L349.40,317.40 L345.70,317.40 L345.70,315.60 L339.00,315.60 L339.00,313.70 L336.20,313.70 L336.20,311.80 L333.30,311.80 L333.30,310.00 L330.50,310.00 L330.50,307.10 L327.70,307.10 L327.70,304.30 L324.80,304.30 L324.80,301.50 L322.00,301.50 L322.00,299.20 L320.95,299.20 L320.95,296.90 L319.90,296.90 L319.90,294.55 L318.50,294.55 L318.50,292.20 L317.10,292.20 L317.10,289.85 L315.70,289.85 L315.70,287.50 L314.30,287.50 L314.30,285.60 L313.35,285.60 L313.35,283.70 L312.40,283.70 L312.40,281.35 L311.45,281.35 L311.45,279.00 L310.50,279.00 L310.50,277.10 L309.57,277.10 L309.57,275.20 L308.63,275.20 L308.63,273.30 L307.70,273.30 L307.70,271.43 L307.07,271.43 L307.07,269.57 L306.43,269.57 L306.43,267.70 L305.80,267.70 L305.80,265.95 L304.90,265.95 L304.90,264.20 L304.00,264.20 L304.00,262.30 L303.53,262.30 L303.53,260.40 L303.07,260.40 L303.07,258.50 L302.60,258.50 L302.60,256.63 L302.13,256.63 L302.13,254.77 L301.67,254.77 L301.67,252.90 L301.20,252.90 L301.20,250.70 L300.87,250.70 L300.87,248.50 L300.53,248.50 L300.53,246.30 L300.20,246.30 L300.20,244.10 L299.90,244.10 L299.90,241.90 L299.60,241.90 L299.60,239.70 L299.30,239.70 L299.30,236.50 L298.90,236.50 Z" fill="#e98c7c" style="mix-blend-mode:multiply"/>
</g>
<path d="M298.90,236.50 L300.70,236.50 L300.70,237.80 L301.33,237.80 L301.33,239.67 L301.97,239.67 L301.97,241.53 L302.60,241.53 L302.60,243.40 L303.55,243.40 L303.55,245.80 L304.50,245.80 L304.50,248.20 L305.45,248.20 L305.45,250.55 L306.40,250.55 L306.40,252.90 L307.35,252.90 L307.35,255.25 L308.30,255.25 L308.30,257.60 L309.25,257.60 L309.25,259.95 L310.20,259.95 L310.20,262.30 L311.10,262.30 L311.10,264.65 L312.00,264.65 L312.00,267.00 L312.65,267.00 L312.65,269.70 L313.30,269.70 L313.30,272.40 L314.25,272.40 L314.25,274.75 L315.20,274.75 L315.20,277.10 L316.15,277.10 L316.15,279.45 L317.10,279.45 L317.10,281.80 L318.05,281.80 L318.05,283.70 L319.00,283.70 L319.00,285.60 L320.40,285.60 L320.40,287.50 L321.80,287.50 L321.80,289.40 L324.60,289.40 L324.60,292.60 L327.70,292.60 L327.70,295.80 L329.55,295.80 L329.55,297.70 L331.40,297.70 L331.40,299.60 L335.20,299.60 L335.20,302.40 L340.90,302.40 L340.90,304.30 L346.50,304.30 L346.50,306.10 L351.30,306.10 L351.30,307.90 L354.20,307.90 L354.20,309.80 L358.90,309.80 L358.90,312.60 L363.60,312.60 L363.60,314.50 L369.20,314.50 L369.20,315.50 L372.10,315.50 L372.10,317.40 L382.30,317.40 L382.30,319.50 L390.80,319.50 L390.80,321.40 L398.30,321.40 L398.30,322.80 L405.80,322.80 L405.80,325.30 L409.70,325.30 L409.70,328.50 L426.60,328.50 L426.60,329.30 L428.30,329.30 L428.30,331.80 L445.90,331.80 L445.90,332.40 L446.50,332.40 L446.50,334.45 L447.10,334.45 L447.10,336.50 L508.50,336.50 L508.50,337.20 L509.60,337.20 L509.60,338.80 L512.80,339.00" fill="none" stroke="#6c9c46" stroke-width="1.6"/>
<path d="M298.90,236.50 L299.80,236.50 L299.80,239.70 L300.43,239.70 L300.43,241.57 L301.07,241.57 L301.07,243.43 L301.70,243.43 L301.70,245.30 L302.30,245.30 L302.30,247.83 L302.90,247.83 L302.90,250.37 L303.50,250.37 L303.50,252.90 L304.17,252.90 L304.17,255.27 L304.83,255.27 L304.83,257.63 L305.50,257.63 L305.50,260.00 L306.50,260.00 L306.50,262.17 L307.50,262.17 L307.50,264.33 L308.50,264.33 L308.50,266.50 L309.95,266.50 L309.95,268.95 L311.40,268.95 L311.40,271.40 L314.30,271.40 L314.30,274.30 L317.10,274.30 L317.10,277.10 L318.50,277.10 L318.50,279.45 L319.90,279.45 L319.90,281.80 L320.85,281.80 L320.85,283.70 L321.80,283.70 L321.80,285.60 L324.60,285.60 L324.60,288.40 L327.50,288.40 L327.50,291.20 L330.30,291.20 L330.30,294.10 L333.10,294.10 L333.10,296.90 L336.00,296.90 L336.00,299.70 L337.50,299.70 L337.50,302.50 L342.80,302.50 L342.80,303.40 L347.50,303.40 L347.50,303.80 L353.10,303.80 L353.10,304.30 L356.00,304.30 L356.00,306.50 L356.75,306.50 L356.75,308.85 L357.50,308.85 L357.50,311.20 L361.70,311.20 L361.70,313.60 L370.20,313.60 L370.20,314.50 L370.65,314.50 L370.65,316.95 L371.10,316.95 L371.10,319.40 L390.80,319.40 L390.80,320.30 L391.70,320.30 L391.70,322.40 L405.80,322.40 L405.80,322.90 L406.80,322.90 L406.80,324.75 L407.80,324.75 L407.80,326.60 L408.75,326.60 L408.75,329.30 L409.70,329.30 L409.70,332.00 L427.10,332.00 L427.10,332.80 L427.70,332.80 L427.70,334.90 L428.30,334.90 L428.30,337.00 L445.90,337.00 L445.90,337.50 L447.10,337.50 L447.10,340.30 L508.50,340.30 L508.50,340.80 L509.05,340.80 L509.05,342.50 L509.60,342.50 L509.60,344.20 L512.80,344.40" fill="none" stroke="#8c2a1a" stroke-width="1.2"/>
<line x1="299.20" y1="230.10" x2="299.20" y2="365.10" stroke="#2e2e2e" stroke-width="1.3"/>
<line x1="296.40" y1="362.50" x2="513.30" y2="362.50" stroke="#2e2e2e" stroke-width="1.3"/>
<line x1="296.40" y1="362.50" x2="299.20" y2="362.50" stroke="#2e2e2e" stroke-width="1"/>
<text x="292.80" y="363.80" text-anchor="end" class="tk">0</text>
<line x1="296.40" y1="349.90" x2="299.20" y2="349.90" stroke="#2e2e2e" stroke-width="1"/>
<text x="292.80" y="351.20" text-anchor="end" class="tk">10</text>
<line x1="296.40" y1="337.30" x2="299.20" y2="337.30" stroke="#2e2e2e" stroke-width="1"/>
<text x="292.80" y="338.60" text-anchor="end" class="tk">20</text>
<line x1="296.40" y1="324.70" x2="299.20" y2="324.70" stroke="#2e2e2e" stroke-width="1"/>
<text x="292.80" y="326.00" text-anchor="end" class="tk">30</text>
<line x1="296.40" y1="312.10" x2="299.20" y2="312.10" stroke="#2e2e2e" stroke-width="1"/>
<text x="292.80" y="313.40" text-anchor="end" class="tk">40</text>
<line x1="296.40" y1="299.50" x2="299.20" y2="299.50" stroke="#2e2e2e" stroke-width="1"/>
<text x="292.80" y="300.80" text-anchor="end" class="tk">50</text>
<line x1="296.40" y1="286.90" x2="299.20" y2="286.90" stroke="#2e2e2e" stroke-width="1"/>
<text x="292.80" y="288.20" text-anchor="end" class="tk">60</text>
<line x1="296.40" y1="274.30" x2="299.20" y2="274.30" stroke="#2e2e2e" stroke-width="1"/>
<text x="292.80" y="275.60" text-anchor="end" class="tk">70</text>
<line x1="296.40" y1="261.70" x2="299.20" y2="261.70" stroke="#2e2e2e" stroke-width="1"/>
<text x="292.80" y="263.00" text-anchor="end" class="tk">80</text>
<line x1="296.40" y1="249.10" x2="299.20" y2="249.10" stroke="#2e2e2e" stroke-width="1"/>
<text x="292.80" y="250.40" text-anchor="end" class="tk">90</text>
<line x1="296.40" y1="236.50" x2="299.20" y2="236.50" stroke="#2e2e2e" stroke-width="1"/>
<text x="292.80" y="237.80" text-anchor="end" class="tk">100</text>
<line x1="299.20" y1="362.50" x2="299.20" y2="365.10" stroke="#2e2e2e" stroke-width="1"/>
<text x="299.20" y="374.10" text-anchor="middle" class="tk">0</text>
<line x1="367.15" y1="362.50" x2="367.15" y2="365.10" stroke="#2e2e2e" stroke-width="1"/>
<text x="367.15" y="374.10" text-anchor="middle" class="tk">1</text>
<line x1="435.10" y1="362.50" x2="435.10" y2="365.10" stroke="#2e2e2e" stroke-width="1"/>
<text x="435.10" y="374.10" text-anchor="middle" class="tk">2</text>
<line x1="503.05" y1="362.50" x2="503.05" y2="365.10" stroke="#2e2e2e" stroke-width="1"/>
<text x="503.05" y="374.10" text-anchor="middle" class="tk">3</text>
<text x="355.60" y="386.20" class="ti" textLength="90.6" lengthAdjust="spacingAndGlyphs">Time (years since ibrutinib initiation)</text>
<text transform="translate(276.70,299.50) rotate(-90)" text-anchor="middle" class="ti" textLength="72.7" lengthAdjust="spacingAndGlyphs">Progression-free survival (%)</text>
<text x="6.60" y="15.70" class="lt">A</text>
<text x="267.60" y="15.80" class="lt">B</text>
<text x="6.50" y="224.00" class="lt">C</text>
<text x="267.60" y="224.00" class="lt">D</text>
<text x="32.40" y="188.70" class="nr">Number at risk</text>
<line x1="14.40" y1="196.40" x2="23.80" y2="196.40" stroke="#9b3a5a" stroke-width="1.1"/>
<text x="37.70" y="198.40" text-anchor="middle" class="nr">146</text>
<text x="105.85" y="198.40" text-anchor="middle" class="nr">66</text>
<text x="174.00" y="198.40" text-anchor="middle" class="nr">41</text>
<text x="242.15" y="198.40" text-anchor="middle" class="nr">26</text>
<text x="293.10" y="188.70" class="nr">Number at risk</text>
<line x1="275.50" y1="196.40" x2="284.90" y2="196.40" stroke="#9b3a5a" stroke-width="1.1"/>
<text x="298.80" y="198.40" text-anchor="middle" class="nr">146</text>
<text x="366.75" y="198.40" text-anchor="middle" class="nr">50</text>
<text x="434.70" y="198.40" text-anchor="middle" class="nr">28</text>
<text x="502.65" y="198.40" text-anchor="middle" class="nr">18</text>
<text x="33.90" y="396.80" class="nr">Number at risk</text>
<line x1="14.50" y1="404.50" x2="23.90" y2="404.50" stroke="#7a3a55" stroke-width="1.1"/>
<text x="37.80" y="406.50" text-anchor="middle" class="nr">56</text>
<text x="105.95" y="406.50" text-anchor="middle" class="nr">23</text>
<text x="174.10" y="406.50" text-anchor="middle" class="nr">14</text>
<text x="242.25" y="406.50" text-anchor="middle" class="nr">10</text>
<line x1="14.50" y1="414.20" x2="23.90" y2="414.20" stroke="#8cc480" stroke-width="1.1"/>
<text x="37.80" y="416.20" text-anchor="middle" class="nr">90</text>
<text x="105.95" y="416.20" text-anchor="middle" class="nr">43</text>
<text x="174.10" y="416.20" text-anchor="middle" class="nr">27</text>
<text x="242.25" y="416.20" text-anchor="middle" class="nr">16</text>
<text x="294.60" y="396.80" class="nr">Number at risk</text>
<line x1="275.60" y1="404.50" x2="285.00" y2="404.50" stroke="#7a3a55" stroke-width="1.1"/>
<text x="298.90" y="406.50" text-anchor="middle" class="nr">56</text>
<text x="366.85" y="406.50" text-anchor="middle" class="nr">19</text>
<text x="434.80" y="406.50" text-anchor="middle" class="nr">9</text>
<text x="502.75" y="406.50" text-anchor="middle" class="nr">7</text>
<line x1="275.60" y1="414.20" x2="285.00" y2="414.20" stroke="#8cc480" stroke-width="1.1"/>
<text x="298.90" y="416.20" text-anchor="middle" class="nr">90</text>
<text x="366.85" y="416.20" text-anchor="middle" class="nr">31</text>
<text x="434.80" y="416.20" text-anchor="middle" class="nr">19</text>
<text x="502.75" y="416.20" text-anchor="middle" class="nr">11</text>
<rect x="104.80" y="230.3" width="5.6" height="5.4" fill="#e98a8a"/>
<line x1="104.80" y1="233.1" x2="110.40" y2="233.1" stroke="#a8283a" stroke-width="1"/>
<text x="113.00" y="235.4" class="lg" textLength="23.4" lengthAdjust="spacingAndGlyphs">Later line</text>
<rect x="145.90" y="230.3" width="6.0" height="5.4" fill="#a8d494"/>
<line x1="145.90" y1="233.1" x2="151.90" y2="233.1" stroke="#5f9a45" stroke-width="1"/>
<text x="154.90" y="235.4" class="lg" textLength="30.6" lengthAdjust="spacingAndGlyphs">Second line</text>
<rect x="365.40" y="230.3" width="5.6" height="5.4" fill="#e98a8a"/>
<line x1="365.40" y1="233.1" x2="371.00" y2="233.1" stroke="#a8283a" stroke-width="1"/>
<text x="373.60" y="235.4" class="lg" textLength="23.4" lengthAdjust="spacingAndGlyphs">Later line</text>
<rect x="406.50" y="230.3" width="6.0" height="5.4" fill="#a8d494"/>
<line x1="406.50" y1="233.1" x2="412.50" y2="233.1" stroke="#5f9a45" stroke-width="1"/>
<text x="415.50" y="235.4" class="lg" textLength="30.6" lengthAdjust="spacingAndGlyphs">Second line</text>
<text x="50.4" y="339.2" class="pv"><tspan font-style="italic">P</tspan> = .34</text>
<text x="311.6" y="339.2" class="pv"><tspan font-style="italic">P</tspan> = .91</text>
</svg></body></html>
